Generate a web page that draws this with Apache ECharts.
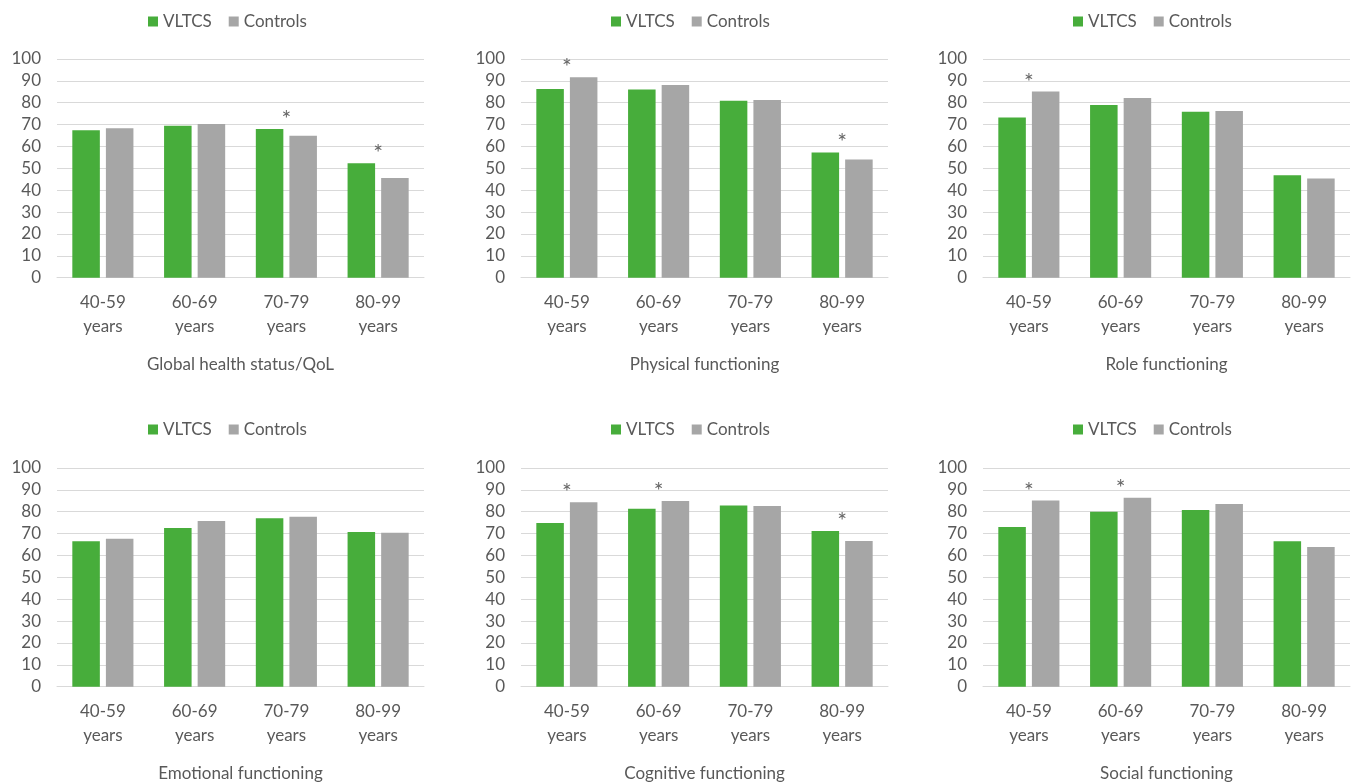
<!DOCTYPE html>
<html>
<head>
<meta charset="utf-8">
<script src="https://cdn.jsdelivr.net/npm/echarts@6/dist/echarts.min.js"></script>
<style>
html,body{margin:0;padding:0;background:#fff;}
#chart{width:1356px;height:782px;}
</style>
</head>
<body>
<div id="chart"></div>
<script>
// ---- Data ----
const categories = ['40-59\nyears', '60-69\nyears', '70-79\nyears', '80-99\nyears'];
const seriesNames = ['VLTCS', 'Controls'];
const yTicks = [0, 10, 20, 30, 40, 50, 60, 70, 80, 90, 100];

const panelTitles = [
  'Global health status/QoL',
  'Physical functioning',
  'Role functioning',
  'Emotional functioning',
  'Cognitive functioning',
  'Social functioning'
];

const vltcsGlobal    = [67.4, 69.5, 68.0, 52.3];
const controlsGlobal = [68.3, 70.3, 64.9, 45.6];
const sigGlobal      = [0, 0, 1, 1];

const vltcsPhysical    = [86.3, 86.1, 80.9, 57.3];
const controlsPhysical = [91.6, 88.1, 81.2, 54.0];
const sigPhysical      = [1, 0, 0, 1];

const vltcsRole    = [73.2, 79.0, 75.9, 46.8];
const controlsRole = [85.1, 82.2, 76.2, 45.4];
const sigRole      = [1, 0, 0, 0];

const vltcsEmotional    = [66.5, 72.6, 77.0, 70.7];
const controlsEmotional = [67.7, 75.8, 77.7, 70.4];
const sigEmotional      = [0, 0, 0, 0];

const vltcsCognitive    = [74.8, 81.4, 82.9, 71.2];
const controlsCognitive = [84.3, 84.9, 82.6, 66.6];
const sigCognitive      = [1, 1, 0, 1];

const vltcsSocial    = [73.0, 80.0, 80.8, 66.5];
const controlsSocial = [85.1, 86.4, 83.5, 63.9];
const sigSocial      = [1, 1, 0, 0];

// ---- Build ----
const panels = [
  [vltcsGlobal, controlsGlobal, sigGlobal],
  [vltcsPhysical, controlsPhysical, sigPhysical],
  [vltcsRole, controlsRole, sigRole],
  [vltcsEmotional, controlsEmotional, sigEmotional],
  [vltcsCognitive, controlsCognitive, sigCognitive],
  [vltcsSocial, controlsSocial, sigSocial]
];

const GREEN = '#47AD3B';
const GREY = '#A6A6A6';
const TXT = '#595959';
const FONT = 'Lato, "Open Sans", sans-serif';
const FS = 17;

const colLefts = [57, 521, 983];
const plotW = 367;
const rowTops = [59, 468];
const plotH = 218.7;
const legendLefts = [143, 606, 1068];
const legendTops = [8, 416];

const grids = [], xAxes = [], yAxes = [], series = [], legends = [];

panels.forEach((p, i) => {
  const col = i % 3, row = Math.floor(i / 3);
  grids.push({
    left: colLefts[col],
    top: rowTops[row],
    width: plotW,
    height: plotH,
    containLabel: false,
    outerBoundsMode: 'none'
  });
  xAxes.push({
    type: 'category',
    gridIndex: i,
    data: categories,
    axisLine: { show: true, lineStyle: { color: '#D9D9D9', width: 1 } },
    axisTick: { show: false },
    axisLabel: { color: TXT, fontSize: FS, fontFamily: FONT, lineHeight: 24, margin: 13 },
    name: panelTitles[i],
    nameLocation: 'middle',
    nameGap: 78,
    nameTextStyle: { color: TXT, fontSize: FS, fontFamily: FONT }
  });
  yAxes.push({
    type: 'value',
    gridIndex: i,
    min: yTicks[0],
    max: yTicks[yTicks.length - 1],
    interval: yTicks[1] - yTicks[0],
    axisLine: { show: false },
    axisTick: { show: false },
    splitLine: { show: true, lineStyle: { color: '#D9D9D9', width: 1 } },
    axisLabel: { color: TXT, fontSize: FS, fontFamily: FONT, margin: 16 }
  });
  legends.push({
    data: seriesNames,
    left: legendLefts[col],
    top: legendTops[row],
    icon: 'rect',
    itemWidth: 10,
    itemHeight: 10,
    itemGap: 17,
    textStyle: { color: TXT, fontSize: FS, fontFamily: FONT },
    selectedMode: false
  });
  series.push({
    name: seriesNames[0],
    type: 'bar',
    xAxisIndex: i,
    yAxisIndex: i,
    data: p[0],
    barWidth: '30%',
    barGap: '22%',
    itemStyle: { color: GREEN },
    animation: false
  });
  series.push({
    name: seriesNames[1],
    type: 'bar',
    xAxisIndex: i,
    yAxisIndex: i,
    data: p[1],
    barWidth: '30%',
    barGap: '22%',
    itemStyle: { color: GREY },
    animation: false
  });
  const stars = [];
  p[2].forEach((s, k) => {
    if (s) stars.push([categories[k], Math.max(p[0][k], p[1][k])]);
  });
  series.push({
    name: 'significance',
    type: 'scatter',
    xAxisIndex: i,
    yAxisIndex: i,
    data: stars,
    symbolSize: 0,
    silent: true,
    animation: false,
    label: {
      show: true,
      formatter: '*',
      position: 'top',
      distance: -2,
      color: '#404040',
      fontSize: 23,
      fontFamily: FONT
    }
  });
});

const chart = echarts.init(document.getElementById('chart'), null, { renderer: 'canvas' });
chart.setOption({
  backgroundColor: '#fff',
  animation: false,
  textStyle: { fontFamily: FONT },
  legend: legends,
  grid: grids,
  xAxis: xAxes,
  yAxis: yAxes,
  series: series
});
</script>
</body>
</html>
